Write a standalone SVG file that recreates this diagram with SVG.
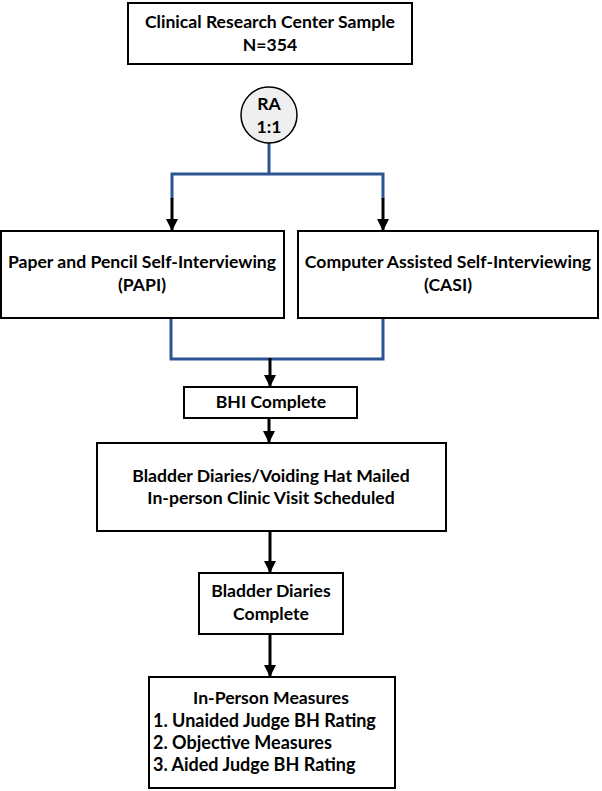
<svg xmlns="http://www.w3.org/2000/svg" width="602" height="791" viewBox="0 0 602 791">
<defs>
<style>
.box{fill:#fff;stroke:#000;stroke-width:2}
.t{font-family:Lato,"Open Sans","Liberation Sans",sans-serif;font-weight:bold;font-size:17.6px;fill:#000}
.l{font-size:18px}
.c{text-anchor:middle}
.blue{fill:none;stroke:#2c5492;stroke-width:3}
.blk{fill:none;stroke:#000;stroke-width:3}
</style>
<marker id="ah" viewBox="0 0 12 12" refX="12" refY="6" markerWidth="12" markerHeight="12" markerUnits="userSpaceOnUse" orient="auto">
<path d="M0,0 L12,6 L0,12 Z" fill="#000"/>
</marker>
</defs>
<rect width="602" height="791" fill="#fff"/>
<g id="connectors">
<path class="blue" d="M269,143 V174 M172,174 H383 M172,172.5 V199 M383,172.5 V199"/>
<path class="blk" d="M172,198 V231" marker-end="url(#ah)"/>
<path class="blk" d="M383,198 V231" marker-end="url(#ah)"/>
<path class="blue" d="M171,318 V359 H383 V318"/>
<path class="blk" d="M270,358 V387" marker-end="url(#ah)"/>
<path class="blk" d="M269,418 V443" marker-end="url(#ah)"/>
<path class="blk" d="M270,531 V573" marker-end="url(#ah)"/>
<path class="blk" d="M270,634 V677" marker-end="url(#ah)"/>
</g>
<g id="sample">
<rect class="box" x="128" y="3" width="284" height="61"/>
<text class="t c" x="270" y="28">Clinical Research Center Sample</text>
<text class="t c" x="270" y="51">N=354</text>
</g>
<g id="ra">
<circle cx="269" cy="115" r="28" fill="#efefef" stroke="#000" stroke-width="1.5"/>
<text class="t c" x="269" y="110">RA</text>
<text class="t c" x="269" y="133">1:1</text>
</g>
<g id="papi">
<rect class="box" x="1" y="231" width="283" height="87"/>
<text class="t c" x="142" y="268">Paper and Pencil Self-Interviewing</text>
<text class="t c" x="142" y="291">(PAPI)</text>
</g>
<g id="casi">
<rect class="box" x="298" y="231" width="300" height="87"/>
<text class="t c" x="448" y="268">Computer Assisted Self-Interviewing</text>
<text class="t c" x="448" y="291">(CASI)</text>
</g>
<g id="bhi">
<rect class="box" x="184" y="387" width="173" height="31"/>
<text class="t c" x="271" y="408">BHI Complete</text>
</g>
<g id="mailed">
<rect class="box" x="97" y="443" width="349" height="88"/>
<text class="t c" x="271" y="482">Bladder Diaries/Voiding Hat Mailed</text>
<text class="t c" x="271" y="504">In-person Clinic Visit Scheduled</text>
</g>
<g id="diaries">
<rect class="box" x="199" y="573" width="144" height="61"/>
<text class="t c" x="271" y="597">Bladder Diaries</text>
<text class="t c" x="271" y="620">Complete</text>
</g>
<g id="inperson">
<rect class="box" x="149" y="677" width="246" height="111"/>
<text class="t c" x="271" y="704">In-Person Measures</text>
<text class="t l" x="153" y="727">1. Unaided Judge BH Rating</text>
<text class="t l" x="153" y="749">2. Objective Measures</text>
<text class="t l" x="153" y="771">3. Aided Judge BH Rating</text>
</g>
</svg>
